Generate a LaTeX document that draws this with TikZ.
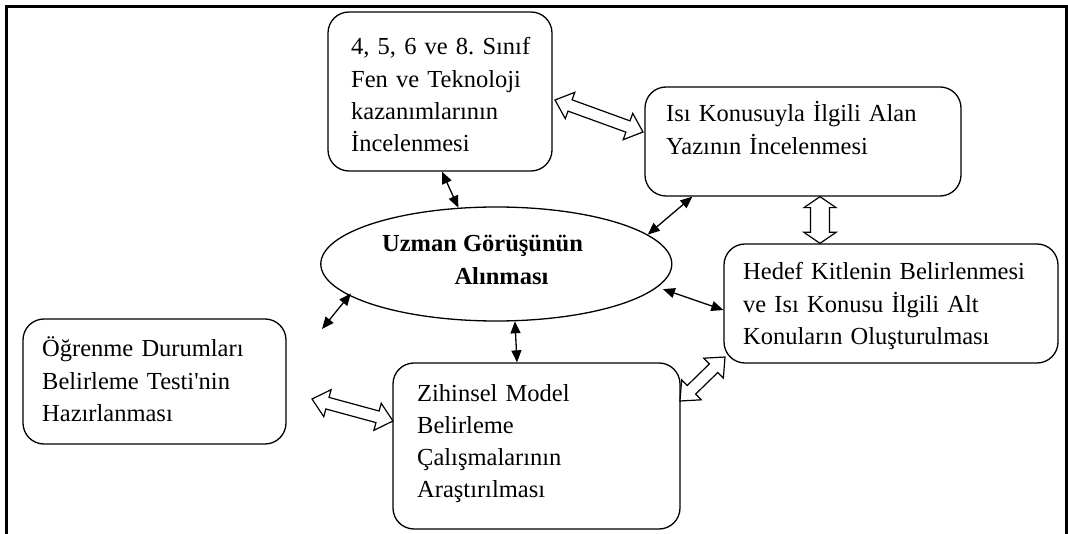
\documentclass[tikz,border=0pt]{standalone}
\usepackage{fontspec}
\setmainfont{Liberation Serif}[Ligatures=TeXOff]
\usetikzlibrary{arrows.meta,shapes.geometric,calc}
\frenchspacing

% hollow double arrow: #1 start, #2 end, #3 head length, #4 head half width, #5 shaft half width
\newcommand\hollowarrow[5]{%
  \path let \p1=(#1), \p2=(#2),
    \n1={atan2(\y2-\y1,\x2-\x1)}, \n2={veclen(\x2-\x1,\y2-\y1)} in
    \pgfextra{\xdef\harang{\n1}\xdef\harlen{\n2}};
  \begin{scope}[shift={(#1)}, rotate=\harang, x=1pt, y=1pt]
    \draw[hollow] (0,0) -- (#3,#4) -- (#3,#5) -- (\harlen-#3,#5) -- (\harlen-#3,#4)
      -- (\harlen,0) -- (\harlen-#3,-#4) -- (\harlen-#3,-#5) -- (#3,-#5) -- (#3,-#4) -- cycle;
  \end{scope}}

\tikzset{
  box/.style={draw, rounded corners=21pt, line width=1.3pt, inner sep=0pt},
  oval/.style={draw, ellipse, line width=1.3pt, inner sep=0pt},
  txt/.style={anchor=base west, inner sep=0pt, text width=330pt, align=left,
    font=\fontsize{24.5}{32.3}\selectfont\frenchspacing},
  etxt/.style={anchor=base, inner sep=0pt, font=\fontsize{24.5}{32.3}\selectfont\bfseries},
  dbl/.style={line width=1.3pt,
    {Triangle[length=12pt,width=10pt]}-{Triangle[length=12pt,width=10pt]}},
  hollow/.style={draw, fill=white, line width=1.2pt, line join=miter},
  frame/.style={line width=3pt}
}

\begin{document}
\begin{tikzpicture}[x=1pt,y=-1pt]
\useasboundingbox (0,0) rectangle (1068,534);
\fill[white] (0,0) rectangle (1068,534);

% frame (open at the bottom)
\draw[frame] (6.7,534) -- (6.7,6.7) -- (1066.3,6.7) -- (1066.3,534);

% boxes
\node[box, minimum width=224pt, minimum height=159pt] (b1) at (440,91.5) {};
\node[box, minimum width=316pt, minimum height=109pt] (b2) at (803,141.5) {};
\node[box, minimum width=334pt, minimum height=119pt] (b3) at (891,303.5) {};
\node[box, minimum width=287pt, minimum height=166pt] (b4) at (536.5,446) {};
\node[box, minimum width=263pt, minimum height=125pt] (b5) at (154.5,381.5) {};
\node[oval, minimum width=351pt, minimum height=114pt] (e) at (496.3,264) {};

% texts
\node[txt] (t1) at (351,55) {4, 5, 6 ve 8. Sınıf\\Fen ve Teknoloji\\kazanımlarının\\İncelenmesi};
\node[txt] (t2) at (666,122) {Isı Konusuyla İlgili Alan\\Yazının İncelenmesi};
\node[txt] (t3) at (743,280) {Hedef Kitlenin Belirlenmesi\\ve Isı Konusu İlgili Alt\\Konuların Oluşturulması};
\node[txt] (t4) at (417,401) {Zihinsel Model\\Belirleme\\Çalışmalarının\\Araştırılması};
\node[txt] (t5) at (42,357) {Öğrenme Durumları\\Belirleme Testi'nin\\Hazırlanması};
\node[etxt] (u1) at (482.5,252) {Uzman Görüşünün};
\node[etxt] (u2) at (501.5,285) {Alınması};

% thin double arrows
\coordinate (free) at (322,329);
\draw[dbl] ([xshift=2pt]b1.south) -- (e.124);
\draw[dbl] ([xshift=48pt]b2.south west) -- (e.11);
\draw[dbl] ([xshift=8pt]e.-9) -- ([yshift=-6.5pt]b3.west);
\draw[dbl] ([xshift=6pt]e.191) -- (free);
\draw[dbl] (e.-72) -- ([xshift=-19.5pt]b4.north);

% hollow double arrows
\coordinate (h1a) at (555,100);
\coordinate (h1b) at (643,132);
\coordinate (h2a) at ([xshift=17pt]b2.south);
\coordinate (h2b) at ([xshift=-71pt]b3.north);
\coordinate (h3a) at (312,399);
\coordinate (h3b) at (393,421);
\coordinate (h4a) at (680,401);
\coordinate (h4b) at (725,357);
\hollowarrow{h1a}{h1b}{16}{14}{6}
\hollowarrow{h2a}{h2b}{11}{16}{9.5}
\hollowarrow{h3a}{h3b}{16}{14}{6}
\hollowarrow{h4a}{h4b}{16}{14}{6}
\end{tikzpicture}
\end{document}
